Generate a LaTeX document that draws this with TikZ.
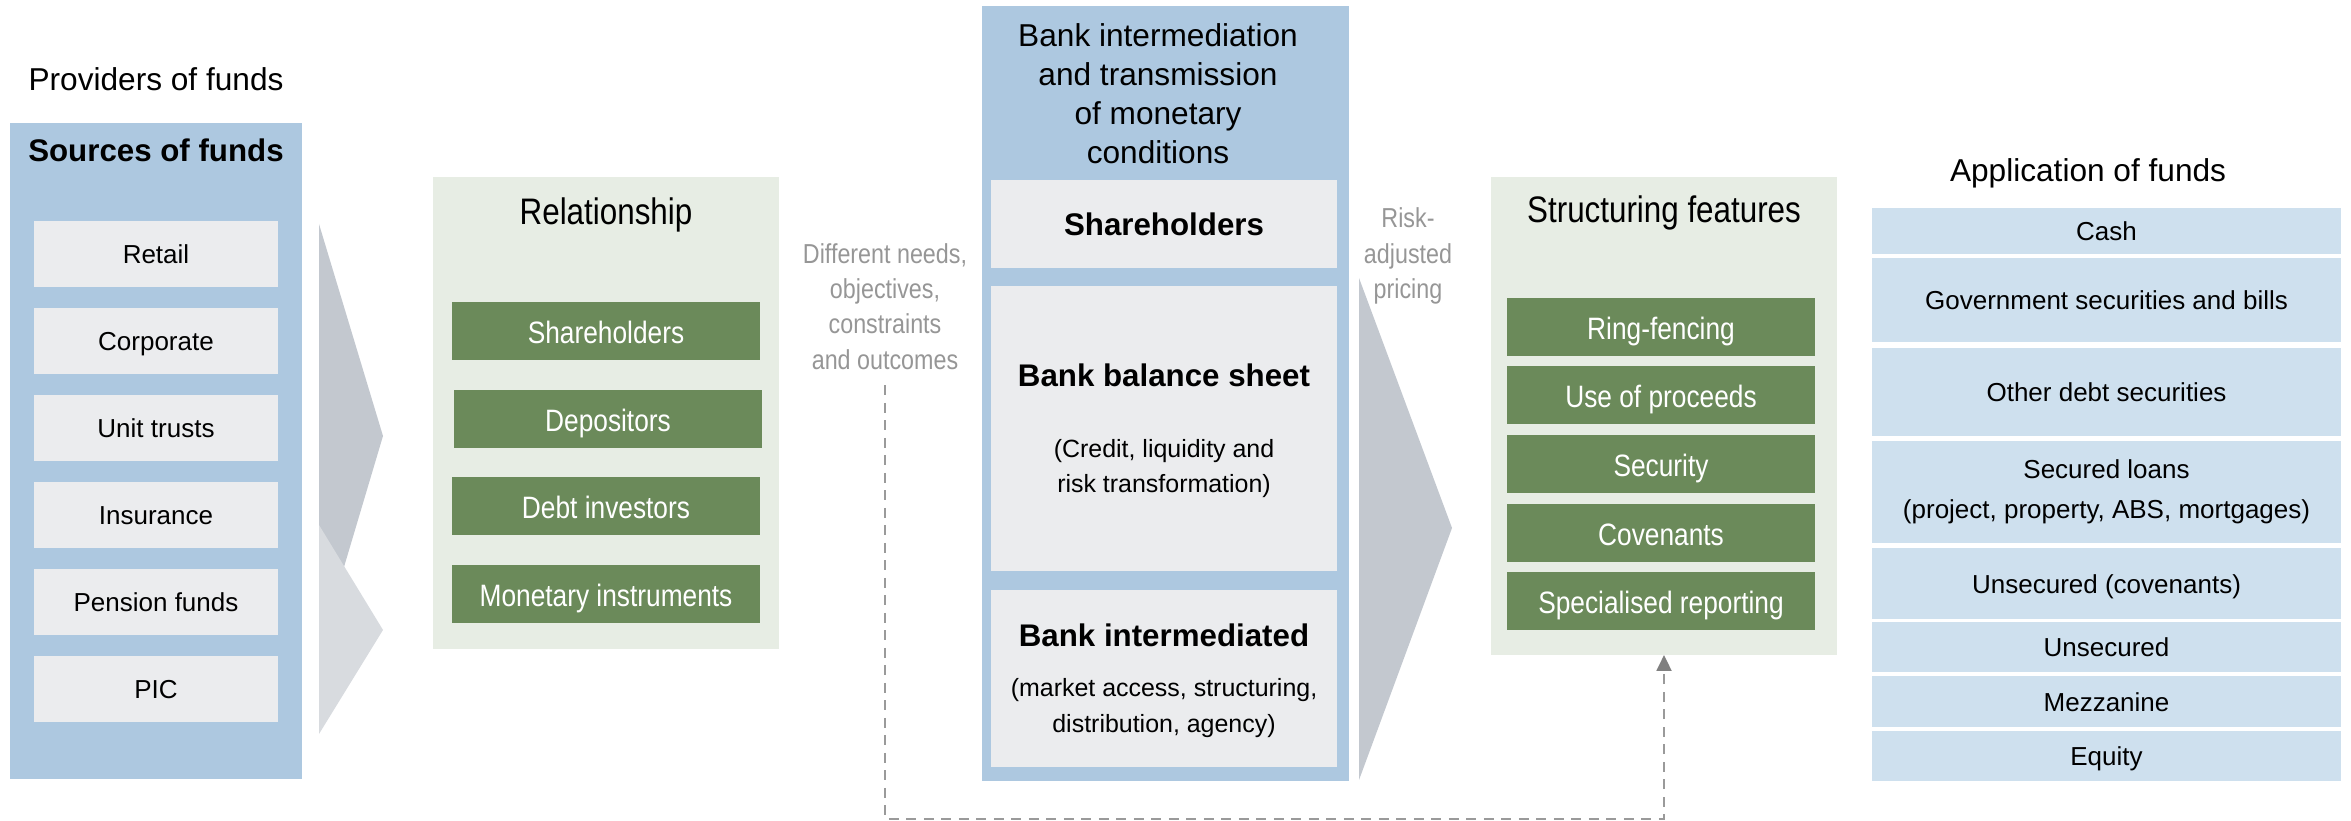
\documentclass[tikz,border=0pt]{standalone}
\usepackage{fontspec}
\setmainfont{Liberation Sans}
\newfontfamily\condensed[FakeStretch=0.85]{Liberation Sans}
\usepackage{tikz}
\usetikzlibrary{arrows.meta}
\definecolor{sourceblue}{HTML}{ADC8E0}
\definecolor{paleblue}{HTML}{CEE0EE}
\definecolor{cloud}{HTML}{EBECEE}
\definecolor{sage}{HTML}{E7EDE4}
\definecolor{moss}{HTML}{6B8A5A}
\definecolor{slate}{HTML}{C3C8CF}
\definecolor{mist}{HTML}{D8DBDF}
\definecolor{ash}{HTML}{969696}
\definecolor{dashgrey}{HTML}{9A9A9A}

\begin{document}
\begin{tikzpicture}[inner sep=0pt, outer sep=0pt]
\useasboundingbox (0,0) rectangle (23.51,8.21);

\tikzstyle{every node}=[rectangle, draw=none, align=center, text=black]
\tikzstyle{headtxt}=[font=\fontsize{9}{11.1}\selectfont]
\tikzstyle{boldtxt}=[font=\bfseries\fontsize{8.9}{10.7}\selectfont]
\tikzstyle{subtxt}=[font=\fontsize{7.1}{10}\selectfont]
\tikzstyle{cntitle}=[font=\condensed\fontsize{10.5}{12}\selectfont]
\tikzstyle{graytxt}=[font=\condensed\fontsize{7.8}{10}\selectfont, text=ash]
\tikzstyle{panel}=[fill=sourceblue]
\tikzstyle{greenpanel}=[fill=sage, minimum width=3.46cm]
\tikzstyle{oneline}=[text height=0.55em, text depth=0pt]
\tikzstyle{srcitem}=[fill=cloud, minimum width=2.44cm, minimum height=0.66cm, oneline, font=\fontsize{7.4}{11.4}\selectfont]
\tikzstyle{greenitem}=[fill=moss, text=white, minimum width=3.08cm, minimum height=0.58cm, text height=0.72em, text depth=0pt, font=\condensed\fontsize{8.8}{10}\selectfont]
\tikzstyle{bankitem}=[fill=cloud, minimum width=3.46cm]
\tikzstyle{appitem}=[fill=paleblue, minimum width=4.69cm, font=\fontsize{7.4}{11.4}\selectfont]
\tikzstyle{appline}=[appitem, oneline]

% chevrons
\fill[slate] (3.19,5.97) -- (3.83,3.85) -- (3.19,1.70) -- cycle;
\fill[mist]  (3.19,2.96) -- (3.83,1.91) -- (3.19,0.87) -- cycle;
\fill[slate] (13.59,5.43) -- (14.52,2.93) -- (13.59,0.41) -- cycle;

% providers
\draw (1.56,7.42) node[headtxt] (providers) {Providers of funds};
\draw (1.56,3.70) node[panel, minimum width=2.92cm, minimum height=6.56cm] (sources) {};
\draw (1.56,6.71) node[boldtxt] (sourcestitle) {Sources of funds};
\draw (1.56,5.67) node[srcitem] (retail) {Retail}
      (1.56,4.80) node[srcitem] (corporate) {Corporate}
      (1.56,3.93) node[srcitem] (unittrusts) {Unit trusts}
      (1.56,3.06) node[srcitem] (insurance) {Insurance}
      (1.56,2.19) node[srcitem] (pension) {Pension funds}
      (1.56,1.32) node[srcitem] (pic) {PIC};

% relationship
\draw (6.06,4.08) node[greenpanel, minimum height=4.72cm] (relation) {};
\draw (6.06,6.06) node[cntitle] (relationtitle) {Relationship};
\draw (6.06,4.90) node[greenitem] (relshare) {Shareholders}
      (6.08,4.02) node[greenitem] (depositors) {Depositors}
      (6.06,3.15) node[greenitem] (debtinv) {Debt investors}
      (6.06,2.27) node[greenitem] (monetary) {Monetary instruments};

\draw (8.85,5.145) node[graytxt] (needs) {Different needs,\\objectives,\\constraints\\and outcomes};

% bank
\draw (11.655,4.275) node[panel, minimum width=3.67cm, minimum height=7.75cm] (bank) {};
\draw (11.58,7.27) node[headtxt] (banktitle) {Bank intermediation\\and transmission\\of monetary\\conditions};
\draw (11.64,5.97) node[bankitem, minimum height=0.88cm, boldtxt] (bankshare) {Shareholders};
\draw (11.64,3.925) node[bankitem, minimum height=2.85cm] (balance) {};
\draw (11.64,4.46) node[boldtxt] (balancetitle) {Bank balance sheet};
\draw (11.64,3.525) node[subtxt] (balancesub) {(Credit, liquidity and\\risk transformation)};
\draw (11.64,1.425) node[bankitem, minimum height=1.77cm] (intermed) {};
\draw (11.64,1.86) node[boldtxt] (intermedtitle) {Bank intermediated};
\draw (11.64,1.13) node[subtxt] (intermedsub) {(market access, structuring,\\distribution, agency)};

\draw (14.08,5.65) node[graytxt] (pricing) {Risk-\\adjusted\\pricing};

% structuring
\draw (16.64,4.05) node[greenpanel, minimum height=4.78cm] (struct) {};
\draw (16.64,6.08) node[cntitle] (structtitle) {Structuring features};
\draw (16.61,4.94) node[greenitem] (ringfence) {Ring-fencing}
      (16.61,4.26) node[greenitem] (proceeds) {Use of proceeds}
      (16.61,3.57) node[greenitem] (security) {Security}
      (16.61,2.88) node[greenitem] (covenants) {Covenants}
      (16.61,2.20) node[greenitem] (reporting) {Specialised reporting};

% application
\draw (20.88,6.48) node[headtxt] (application) {Application of funds};
\draw (21.065,5.90) node[appline, minimum height=0.46cm] (cash) {Cash}
      (21.065,5.21) node[appline, minimum height=0.84cm] (govsec) {Government securities and bills}
      (21.065,4.29) node[appline, minimum height=0.88cm] (otherdebt) {Other debt securities}
      (21.065,3.29) node[appitem, minimum height=1.02cm] (secured) {Secured loans\\(project, property, ABS, mortgages)}
      (21.065,2.375) node[appline, minimum height=0.71cm] (unsecov) {Unsecured (covenants)}
      (21.065,1.74) node[appline, minimum height=0.50cm] (unsecured) {Unsecured}
      (21.065,1.195) node[appline, minimum height=0.51cm] (mezzanine) {Mezzanine}
      (21.065,0.65) node[appline, minimum height=0.50cm] (equity) {Equity};

% feedback loop
\coordinate (dashtop) at ([yshift=-0.16cm]needs.south);
\coordinate (loopbottom) at (12.75,0.02);
\draw[draw=dashgrey, line width=0.02cm, dash pattern=on 0.1cm off 0.075cm,
      -{Triangle[length=0.16cm, width=0.15cm, color=gray]}]
      (dashtop) |- (loopbottom) -| (struct.south);

\end{tikzpicture}
\end{document}
